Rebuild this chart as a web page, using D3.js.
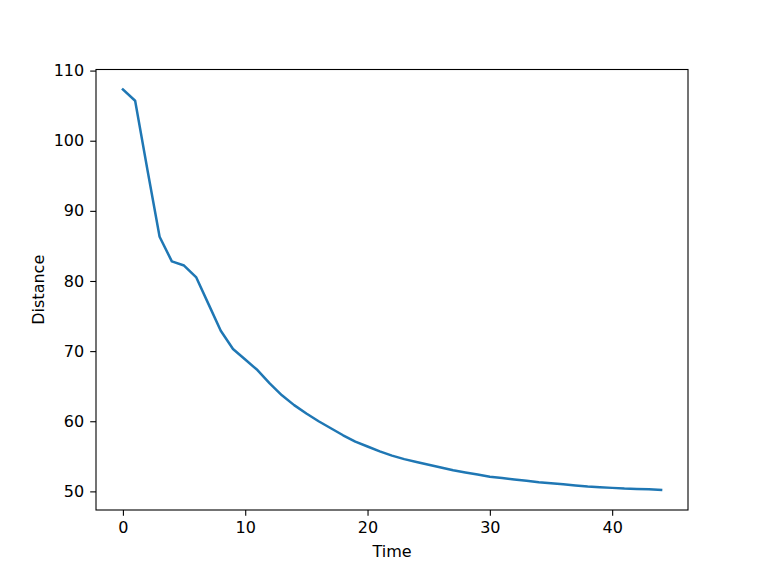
<!DOCTYPE html>
<html>
<head>
<meta charset="utf-8">
<script src="https://cdnjs.cloudflare.com/ajax/libs/d3/7.8.5/d3.min.js"></script>
<style>
    html, body { margin: 0; padding: 0; background: #fff; overflow: hidden; }
    svg { display: block; }
    svg text { font-family: "DejaVu Sans", sans-serif; fill: #000; }
</style>
</head>
<body>
<svg id="chart"></svg>
<script>
'use strict';

var times = [0, 1, 2, 3, 4, 5, 6, 7, 8, 9, 10, 11, 12, 13, 14, 15, 16, 17, 18, 19, 20, 21,
    22, 23, 24, 25, 26, 27, 28, 29, 30, 31, 32, 33, 34, 35, 36, 37, 38, 39, 40, 41, 42, 43, 44];
var distances = [107.3, 105.7, 95.9, 86.3, 82.8, 82.2, 80.5, 76.7, 72.9, 70.3, 68.8, 67.3,
    65.4, 63.7, 62.3, 61.1, 60.0, 59.0, 58.0, 57.1, 56.4, 55.7, 55.1, 54.6, 54.2, 53.8,
    53.4, 53.0, 52.7, 52.4, 52.1, 51.9, 51.7, 51.5, 51.3, 51.15, 51.0, 50.85, 50.7, 50.6,
    50.5, 50.4, 50.35, 50.3, 50.2];
var xTicks = [0, 10, 20, 30, 40];
var yTicks = [50, 60, 70, 80, 90, 100, 110];

var width = 764,
    height = 573,
    margin = {top: 69.5, right: 76, bottom: 63, left: 96},
    innerWidth = width - margin.left - margin.right,
    innerHeight = height - margin.top - margin.bottom;

var data = times.map(function(t, i) { return {time: t, distance: distances[i]}; });

// matplotlib style 5% padding on both axes
function padded(extent) {
    var pad = (extent[1] - extent[0]) * 0.05;
    return [extent[0] - pad, extent[1] + pad];
}

var x = d3.scaleLinear()
    .domain(padded(d3.extent(times)))
    .range([0, innerWidth]);

var y = d3.scaleLinear()
    .domain(padded(d3.extent(distances)))
    .range([innerHeight, 0]);

var svg = d3.select("#chart")
    .attr("width", width)
    .attr("height", height);

var g = svg.append("g")
    .attr("transform", "translate(" + margin.left + "," + margin.top + ")");

var line = d3.line()
    .x(function(d) { return x(d.time); })
    .y(function(d) { return y(d.distance); });

g.append("path")
    .datum(data)
    .attr("fill", "none")
    .attr("stroke", "#1f77b4")
    .attr("stroke-width", 2.5)
    .attr("stroke-linejoin", "round")
    .attr("stroke-linecap", "square")
    .attr("d", line);

var xAxis = d3.axisBottom(x)
    .tickValues(xTicks)
    .tickSize(5.8)
    .tickPadding(5.5)
    .tickSizeOuter(0);

var yAxis = d3.axisLeft(y)
    .tickValues(yTicks)
    .tickSize(5.8)
    .tickPadding(6)
    .tickSizeOuter(0);

var gx = g.append("g")
    .attr("transform", "translate(0," + innerHeight + ")")
    .call(xAxis);

var gy = g.append("g")
    .call(yAxis);

[gx, gy].forEach(function(ax) {
    ax.select(".domain").remove();
    ax.selectAll(".tick line")
        .attr("stroke", "#000")
        .attr("stroke-width", 1.1);
    ax.selectAll(".tick text")
        .attr("fill", "#000")
        .style("font-size", "16px");
});

// frame around the plot area
g.append("rect")
    .attr("x", 0)
    .attr("y", 0)
    .attr("width", innerWidth)
    .attr("height", innerHeight)
    .attr("fill", "none")
    .attr("stroke", "#000")
    .attr("stroke-width", 1.1);

svg.append("text")
    .attr("x", margin.left + innerWidth / 2)
    .attr("y", 557)
    .attr("text-anchor", "middle")
    .style("font-size", "16px")
    .text("Time");

svg.append("text")
    .attr("transform", "translate(44," + (margin.top + innerHeight / 2) + ") rotate(-90)")
    .attr("text-anchor", "middle")
    .style("font-size", "16px")
    .text("Distance");
</script>
</body>
</html>
